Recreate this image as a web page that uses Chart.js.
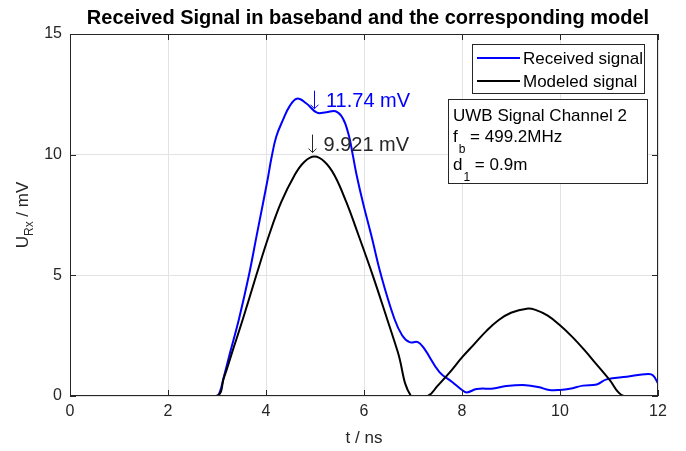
<!DOCTYPE html>
<html>
<head>
<meta charset="utf-8">
<script src="https://cdn.jsdelivr.net/npm/chart.js@4.4.1/dist/chart.umd.min.js"></script>
<style>
  html, body { margin: 0; padding: 0; background: #fff; }
  canvas { display: block; }
</style>
</head>
<body>
<canvas id="sigChart" width="686" height="451"></canvas>
<script>
// received signal (blue), t in ns, U in mV
const tRx = [0.5, 2.9, 3.02, 3.14, 3.27, 3.45, 3.65, 3.80, 3.94, 4.04, 4.11, 4.21, 4.36, 4.48, 4.63, 4.82, 5.04,
             5.23, 5.42, 5.57, 5.69, 5.77, 5.85, 5.98, 6.15, 6.35, 6.62, 6.78, 6.93, 7.10, 7.23, 7.54, 7.8, 8.0,
             8.1, 8.3, 8.64, 8.9, 9.3, 9.58, 9.78, 10.0, 10.2, 10.47, 10.75, 10.95, 11.36, 11.8, 11.9, 12.0];
const uRx = [0, 0, 0, 0.8, 1.82, 3.2, 4.99, 6.55, 8.0, 9.05, 9.85, 10.75, 11.5, 12.0, 12.32, 12.13, 11.74,
             11.76, 11.8, 11.5, 10.8, 10.0, 9.15, 8.0, 6.65, 4.99, 3.2, 2.51, 2.23, 2.23, 1.96, 0.99, 0.58, 0.25,
             0.15, 0.29, 0.31, 0.41, 0.45, 0.36, 0.25, 0.25, 0.3, 0.43, 0.48, 0.69, 0.8, 0.91, 0.85, 0.52];

// modeled signal (black)
const tModel = [0.5, 2.98, 3.14, 3.31, 3.53, 3.80, 4.06, 4.31, 4.58, 4.78, 4.99, 5.2, 5.40, 5.64, 5.89, 6.18,
                6.47, 6.69, 6.96, 7.30, 7.5, 7.75, 8.0, 8.25, 8.5, 8.75, 9.0, 9.32, 9.5, 9.75, 10.0, 10.25,
                10.5, 10.75, 11.0, 11.3, 12.0];
const uModel = [0, 0, 0.75, 1.82, 3.2, 4.99, 6.65, 8.03, 9.14, 9.7, 9.921, 9.7, 9.14, 8.03, 6.65, 4.99,
                3.2, 1.82, 0, 0, 0.42, 0.98, 1.6, 2.15, 2.7, 3.15, 3.45, 3.62, 3.57, 3.33, 2.93, 2.45,
                1.9, 1.3, 0.7, 0, 0];

// peak markers
const peakT = [5.04, 4.99];
const peakU = [11.74, 9.921];
const peakColor = ['#0000ff', '#262626'];

const seriesNames = ['Received signal', 'Modeled signal'];
const infoLines = [['UWB Signal Channel 2', '', ''], ['f', 'b', ' = 499.2MHz'], ['d', '1', ' = 0.9m']];

const xTicks = [0, 2, 4, 6, 8, 10, 12];
const yTicks = [0, 5, 10, 15];

const FONT = '"Liberation Sans", Arial, Helvetica, sans-serif';
const TXT = '#262626';

function toXY(ts, us) {
    return ts.map((t, i) => ({ x: t, y: us[i] }));
}

// draws title, labels, box, ticks, legend and text box (MATLAB look)
const decor = {
    id: 'decor',
    afterDraw(chart) {
        const ctx = chart.ctx;
        const a = chart.chartArea;
        const sx = chart.scales.x, sy = chart.scales.y;
        ctx.save();

        // axes box + inward ticks
        ctx.strokeStyle = TXT;
        ctx.lineWidth = 1;
        ctx.strokeRect(a.left + 0.5, a.top + 0.5, a.right - a.left - 1, a.bottom - a.top - 1);
        ctx.beginPath();
        xTicks.forEach(v => {
            const x = Math.round(sx.getPixelForValue(v)) + 0.5;
            ctx.moveTo(x, a.bottom); ctx.lineTo(x, a.bottom - 6);
            ctx.moveTo(x, a.top); ctx.lineTo(x, a.top + 6);
        });
        yTicks.forEach(v => {
            const y = Math.round(sy.getPixelForValue(v)) + 0.5;
            ctx.moveTo(a.left, y); ctx.lineTo(a.left + 6, y);
            ctx.moveTo(a.right, y); ctx.lineTo(a.right - 6, y);
        });
        ctx.stroke();

        // title
        ctx.fillStyle = '#000';
        ctx.font = 'bold 20px ' + FONT;
        ctx.textAlign = 'center';
        ctx.textBaseline = 'alphabetic';
        ctx.fillText('Received Signal in baseband and the corresponding model', (a.left + a.right) / 2 + 4, 24);

        // x label
        ctx.fillStyle = TXT;
        ctx.font = '17px ' + FONT;
        ctx.fillText('t / ns', (a.left + a.right) / 2, 443);

        // y label (rotated, with subscript)
        ctx.save();
        ctx.translate(28, (a.top + a.bottom) / 2);
        ctx.rotate(-Math.PI / 2);
        ctx.textAlign = 'left';
        const wU = ctx.measureText('U').width;
        ctx.font = '12px ' + FONT;
        const wRx = ctx.measureText('Rx').width;
        ctx.font = '17px ' + FONT;
        const wRest = ctx.measureText(' / mV').width;
        let x0 = -(wU + wRx + wRest) / 2;
        ctx.fillText('U', x0, 0);
        ctx.font = '12px ' + FONT;
        ctx.fillText('Rx', x0 + wU, 5);
        ctx.font = '17px ' + FONT;
        ctx.fillText(' / mV', x0 + wU + wRx, 0);
        ctx.restore();

        // peak labels with down arrows
        peakT.forEach((t, i) => {
            const px = sx.getPixelForValue(t), py = sy.getPixelForValue(peakU[i]);
            const ax = Math.round(px - 3) + 0.5;
            ctx.strokeStyle = peakColor[i];
            ctx.lineWidth = 1;
            ctx.beginPath();
            ctx.moveTo(ax, py - 22); ctx.lineTo(ax, py - 4);
            ctx.moveTo(ax - 4, py - 8); ctx.lineTo(ax, py - 4); ctx.lineTo(ax + 4, py - 8);
            ctx.stroke();
            ctx.fillStyle = peakColor[i];
            ctx.font = '20px ' + FONT;
            ctx.textAlign = 'left';
            ctx.fillText(String(peakU[i]) + ' mV', px + 9, py - 5.5);
        });

        // legend
        ctx.fillStyle = '#fff';
        ctx.fillRect(472, 44, 172, 49);
        ctx.strokeStyle = TXT;
        ctx.strokeRect(472.5, 44.5, 172, 49);
        const legColors = ['#0000ff', '#000000'];
        seriesNames.forEach((name, i) => {
            const y = 58 + i * 23;
            ctx.strokeStyle = legColors[i];
            ctx.lineWidth = 2;
            ctx.beginPath(); ctx.moveTo(477, y); ctx.lineTo(520, y); ctx.stroke();
            ctx.fillStyle = '#000';
            ctx.font = '17px ' + FONT;
            ctx.textAlign = 'left';
            ctx.fillText(name, 523, y + 6);
        });

        // info text box
        ctx.lineWidth = 1;
        ctx.fillStyle = '#fff';
        ctx.fillRect(448, 99, 199, 84);
        ctx.strokeStyle = TXT;
        ctx.strokeRect(448.5, 99.5, 199, 84);
        ctx.fillStyle = '#000';
        const base = [121, 142, 170];
        infoLines.forEach((ln, i) => {
            let x = 453;
            ctx.font = '17px ' + FONT;
            ctx.fillText(ln[0], x, base[i]);
            x += ctx.measureText(ln[0]).width;
            if (ln[1]) {
                ctx.font = '12px ' + FONT;
                ctx.fillText(ln[1], x + 1, base[i] + 11);
                x += ctx.measureText(ln[1]).width + 1;
            }
            ctx.font = '17px ' + FONT;
            ctx.fillText(ln[2], x, base[i]);
        });

        ctx.restore();
    }
};

new Chart(document.getElementById('sigChart'), {
    type: 'line',
    data: {
        datasets: [
            { label: seriesNames[0], data: toXY(tRx, uRx), borderColor: '#0000ff', borderWidth: 2,
              pointRadius: 0, tension: 0.4, order: 2, fill: false },
            { label: seriesNames[1], data: toXY(tModel, uModel), borderColor: '#000000', borderWidth: 2,
              pointRadius: 0, tension: 0.4, order: 1, fill: false }
        ]
    },
    options: {
        responsive: false,
        animation: false,
        devicePixelRatio: 1,
        layout: { padding: { top: 34, right: 28, left: 0, bottom: 0 } },
        plugins: { legend: { display: false }, tooltip: { enabled: false }, title: { display: false } },
        scales: {
            x: {
                type: 'linear', min: 0, max: 12,
                afterFit: s => { s.height = 55; },
                afterBuildTicks: s => { s.ticks = xTicks.map(v => ({ value: v })); },
                grid: { color: '#e3e3e3', drawTicks: false },
                border: { display: false },
                ticks: { padding: 6, color: TXT, font: { family: FONT, size: 16 } }
            },
            y: {
                type: 'linear', min: 0, max: 15,
                afterFit: s => { s.width = 70; },
                afterBuildTicks: s => { s.ticks = yTicks.map(v => ({ value: v })); },
                grid: { color: '#e3e3e3', drawTicks: false },
                border: { display: false },
                ticks: { padding: 8, color: TXT, font: { family: FONT, size: 16 } }
            }
        }
    },
    plugins: [decor]
});
</script>
</body>
</html>
